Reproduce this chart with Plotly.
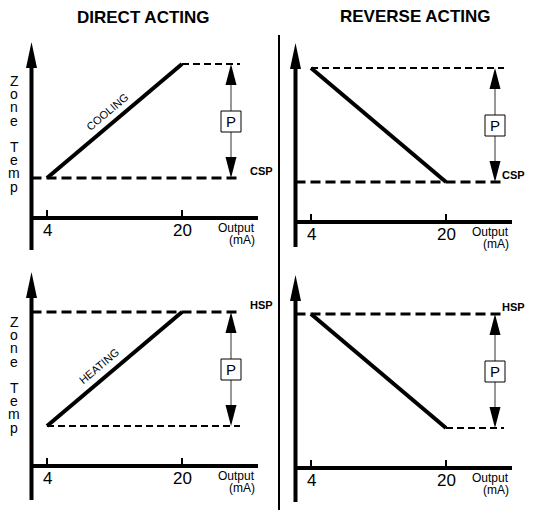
import plotly.graph_objects as go

# values
output_ma = [4, 20]
output_ticks = ["4", "20"]

# zone temperature (degF) at 4 mA and at 20 mA
cooling_direct = [76, 78]
cooling_reverse = [78, 76]
heating_direct = [68, 70]
heating_reverse = [70, 68]

cooling_sp = 76
heating_sp = 70

column_titles = ["DIRECT ACTING", "REVERSE ACTING"]
ylabel_letters = ["Z", "o", "n", "e", "", "T", "e", "m", "p"]

# page size; the page body has an 8px margin so the figure is a bit smaller
W, H = 535, 514
PAD = 8
FW, FH = W - PAD, H - PAD
SX = 135 / 16  # px per mA
SY = 114 / 2  # px per degF
FONT = "Liberation Sans, Arial, sans-serif"

# sp_x: left edge of the setpoint label (right panels: right edge)
panels = [
    dict(temps=cooling_direct, sp=cooling_sp, sp_name="CSP", mode="COOLING",
         col=0, row=0, x4=47, lo=178, tip=42, bot=250, end=258, sp_x=248,
         sp_anchor="left", mode_at=(107, 112), label_top=81),
    dict(temps=cooling_reverse, sp=cooling_sp, sp_name="CSP", mode=None,
         col=1, row=0, x4=311, lo=182, tip=43, bot=247, end=512, sp_x=527,
         sp_anchor="right"),
    dict(temps=heating_direct, sp=heating_sp, sp_name="HSP", mode="HEATING",
         col=0, row=1, x4=47, lo=426, tip=272, bot=500, end=258, sp_x=248,
         sp_anchor="left", mode_at=(99, 366), label_top=322),
    dict(temps=heating_reverse, sp=heating_sp, sp_name="HSP", mode=None,
         col=1, row=1, x4=311, lo=428, tip=275, bot=502, end=512, sp_x=527,
         sp_anchor="right"),
]
col_px = [(PAD, 279), (279, PAD + FW)]
row_px = [(PAD, 257), (257, PAD + FH)]


def paper_x(px):
    return (px - PAD) / FW


def paper_y(py):
    return 1 - (py - PAD) / FH


def head_path(x, y_tip, y_base, half):
    return f"M {x},{y_tip} L {x - half},{y_base} L {x + half},{y_base} Z"


fig = go.Figure()
shapes = []
annotations = []

for i, p in enumerate(panels):
    n = "" if i == 0 else str(i + 1)
    xr, yr = "x" + n, "y" + n
    lo_val = min(p["temps"])
    hi_val = max(p["temps"])

    def fx(px, p=p):
        return output_ma[0] + (px - p["x4"]) / SX

    def fy(py, p=p, lo_val=lo_val):
        return lo_val + (p["lo"] - py) / SY

    c0, c1 = col_px[p["col"]]
    r0, r1 = row_px[p["row"]]
    fig.update_layout({
        "xaxis" + n: dict(domain=[paper_x(c0), paper_x(c1)], range=[fx(c0), fx(c1)],
                          visible=False, anchor=yr, fixedrange=True),
        "yaxis" + n: dict(domain=[paper_y(r1), paper_y(r0)], range=[fy(r1), fy(r0)],
                          visible=False, anchor=xr, fixedrange=True),
    })

    lo = p["lo"]
    ax_x = fx(p["x4"] - 15.5)
    ax_y = fy(lo + 40)
    x_end = fx(p["x4"] + 193)
    arr_x = fx(p["x4"] + 184)
    half = 5.5 / SX

    # control line
    fig.add_trace(go.Scatter(x=output_ma, y=p["temps"], mode="lines",
                             line=dict(color="black", width=4), xaxis=xr, yaxis=yr))
    # setpoint line
    fig.add_trace(go.Scatter(x=[ax_x, x_end], y=[p["sp"], p["sp"]], mode="lines",
                             line=dict(color="black", width=3, dash="10px,5px"),
                             xaxis=xr, yaxis=yr))
    # other end of the proportional band
    other = hi_val if p["sp"] == lo_val else lo_val
    start = output_ma[p["temps"].index(other)]
    fig.add_trace(go.Scatter(x=[start, x_end], y=[other, other], mode="lines",
                             line=dict(color="black", width=2, dash="7px,4px"),
                             xaxis=xr, yaxis=yr))

    # axes drawn by hand
    shapes.append(dict(type="line", xref=xr, yref=yr, x0=ax_x, x1=ax_x,
                       y0=fy(p["bot"]), y1=fy(p["tip"] + 20),
                       line=dict(color="black", width=4)))
    shapes.append(dict(type="path", xref=xr, yref=yr,
                       path=head_path(ax_x, fy(p["tip"]), fy(p["tip"] + 26), half),
                       fillcolor="black", line=dict(width=0)))
    shapes.append(dict(type="line", xref=xr, yref=yr, x0=ax_x, x1=fx(p["end"]),
                       y0=ax_y, y1=ax_y, line=dict(color="black", width=4)))
    for xv, txt in zip(output_ma, output_ticks):
        shapes.append(dict(type="line", xref=xr, yref=yr, x0=xv, x1=xv,
                           y0=ax_y, y1=fy(lo + 32), line=dict(color="black", width=2)))
        annotations.append(dict(x=xv, y=ax_y, xref=xr, yref=yr, text=txt,
                                showarrow=False, xanchor="center", yanchor="top",
                                yshift=-1, font=dict(size=17)))
    annotations.append(dict(x=fx(p["end"] - 1), y=fy(lo + 50), xref=xr, yref=yr,
                            text="Output", showarrow=False, xanchor="right",
                            font=dict(size=12)))
    annotations.append(dict(x=fx(p["end"] - 1), y=fy(lo + 62), xref=xr, yref=yr,
                            text="(mA)", showarrow=False, xanchor="right",
                            font=dict(size=12)))

    # proportional band arrow with P box
    shapes.append(dict(type="line", xref=xr, yref=yr, x0=arr_x, x1=arr_x,
                       y0=fy(lo - 20), y1=fy(lo - 94), line=dict(color="#333", width=1)))
    shapes.append(dict(type="path", xref=xr, yref=yr,
                       path=head_path(arr_x, lo_val, fy(lo - 21), half),
                       fillcolor="black", line=dict(width=0)))
    shapes.append(dict(type="path", xref=xr, yref=yr,
                       path=head_path(arr_x, hi_val, fy(lo - 93), half),
                       fillcolor="black", line=dict(width=0)))
    shapes.append(dict(type="rect", xref=xr, yref=yr,
                       x0=fx(p["x4"] + 174), x1=fx(p["x4"] + 194),
                       y0=fy(lo - 46), y1=fy(lo - 67),
                       fillcolor="white", line=dict(color="black", width=1)))
    annotations.append(dict(x=arr_x, y=fy(lo - 56.5), xref=xr, yref=yr, text="P",
                            showarrow=False, xanchor="center", font=dict(size=15)))

    annotations.append(dict(x=fx(p["sp_x"]), y=p["sp"], xref=xr, yref=yr,
                            text="<b>" + p["sp_name"] + "</b>", showarrow=False,
                            xanchor=p["sp_anchor"], yshift=7, font=dict(size=11)))

    if p["mode"]:
        mx, my = p["mode_at"]
        annotations.append(dict(x=fx(mx), y=fy(my), xref=xr, yref=yr, text=p["mode"],
                                showarrow=False, xanchor="center", textangle=-40,
                                font=dict(size=11)))
        for k, ch in enumerate(ylabel_letters):
            if ch:
                annotations.append(dict(x=fx(14), y=fy(p["label_top"] + 13.2 * k),
                                        xref=xr, yref=yr, text=ch, showarrow=False,
                                        xanchor="center", font=dict(size=14)))

for title, tx, ty in zip(column_titles, [143, 415], [17, 16]):
    annotations.append(dict(x=paper_x(tx), y=paper_y(ty), xref="paper", yref="paper",
                            text="<b>" + title + "</b>", showarrow=False,
                            xanchor="center", yanchor="middle", font=dict(size=17)))

shapes.append(dict(type="line", xref="paper", yref="paper", x0=paper_x(279),
                   x1=paper_x(279), y0=paper_y(35), y1=paper_y(510),
                   line=dict(color="black", width=2)))

fig.update_layout(
    width=FW,
    height=FH,
    margin=dict(l=0, r=0, t=0, b=0),
    paper_bgcolor="white",
    plot_bgcolor="white",
    showlegend=False,
    hovermode=False,
    font=dict(family=FONT, color="black"),
    shapes=shapes,
    annotations=annotations,
)

fig.write_html("out.html")
